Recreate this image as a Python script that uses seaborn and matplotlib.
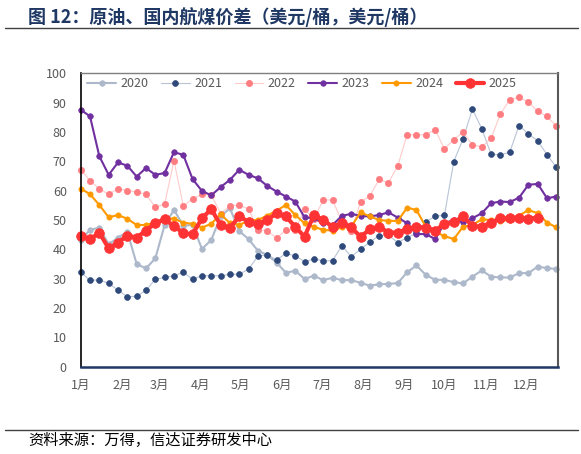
import matplotlib
matplotlib.use("Agg")
import matplotlib.pyplot as plt
from matplotlib.lines import Line2D
import numpy as np
import pandas as pd
import seaborn as sns

# ---------------- data ----------------
months = ["1月", "2月", "3月", "4月", "5月", "6月", "7月", "8月", "9月", "10月", "11月", "12月"]
month_start_days = [0, 31, 59, 90, 120, 151, 181, 212, 243, 273, 304, 334]
week_days = list(range(0, 52 * 7, 7))  # weekly observations, day of year

years = ["2020", "2021", "2022", "2023", "2024", "2025"]

v2020 = [43.2, 46.6, 47.4, 41.7, 44.0, 46.0, 35.0, 33.5, 36.9, 48.3,
         53.4, 48.1, 48.3, 40.1, 43.2, 51.2, 54.0, 46.2, 43.5, 39.5,
         38.1, 35.5, 32.0, 32.7, 29.9, 31.0, 29.5, 30.3, 29.5, 29.5,
         28.6, 27.6, 28.1, 28.2, 28.5, 32.2, 34.5, 31.3, 29.6, 29.6,
         28.8, 28.4, 30.7, 32.8, 30.7, 30.4, 30.4, 31.9, 31.9, 34.1,
         33.6, 33.3]
v2021 = [32.3, 29.4, 29.6, 28.4, 26.1, 23.8, 24.0, 26.0, 29.8, 30.4,
         31.0, 32.2, 29.8, 31.0, 31.0, 31.0, 31.5, 31.5, 33.3, 37.6,
         38.2, 36.4, 38.6, 37.8, 35.8, 36.7, 36.1, 36.1, 41.3, 37.5,
         40.0, 42.4, 44.7, 44.8, 42.3, 44.0, 45.5, 49.4, 51.2, 51.7,
         69.9, 77.7, 87.8, 81.1, 72.4, 72.2, 73.1, 82.2, 79.3, 77.0,
         72.2, 68.0]
v2022 = [67.2, 63.4, 60.6, 58.8, 60.6, 60.0, 59.6, 58.8, 54.3, 55.5,
         70.2, 54.8, 57.2, 58.7, 58.6, 52.2, 54.8, 55.0, 53.8, 46.6,
         46.4, 43.8, 46.6, 46.6, 53.8, 50.3, 56.8, 56.8, 49.5, 46.2,
         56.1, 58.2, 63.8, 62.7, 68.5, 79.1, 78.9, 79.1, 80.8, 74.2,
         77.4, 79.9, 75.6, 74.9, 77.8, 86.1, 91.0, 91.9, 90.2, 87.0,
         85.3, 82.0]
v2023 = [87.6, 85.3, 71.7, 65.4, 69.6, 68.5, 64.8, 67.7, 65.4, 66.0,
         73.1, 72.2, 63.9, 59.9, 58.4, 61.2, 63.7, 67.1, 65.4, 64.2,
         61.6, 59.7, 58.0, 56.3, 50.9, 50.6, 48.9, 48.3, 51.4, 52.1,
         51.4, 51.2, 51.7, 52.6, 50.8, 48.9, 45.2, 45.2, 43.5, 48.9,
         50.0, 49.2, 50.6, 52.3, 55.7, 56.3, 56.1, 57.6, 62.0, 62.3,
         57.4, 58.0]
v2024 = [60.7, 58.8, 55.1, 50.9, 51.7, 50.4, 48.3, 48.3, 49.2, 50.6,
         50.4, 49.1, 48.7, 47.4, 48.7, 52.0, 48.9, 48.3, 49.8, 50.0,
         51.5, 53.2, 55.1, 51.7, 48.9, 47.7, 46.6, 46.4, 47.5, 47.7,
         52.6, 51.2, 50.0, 49.7, 49.7, 54.2, 53.4, 47.7, 46.0, 44.5,
         43.5, 47.7, 48.3, 50.2, 50.0, 49.7, 50.0, 51.5, 53.4, 52.3,
         49.1, 47.5]
v2025 = [44.6, 43.4, 45.7, 40.3, 42.3, 44.7, 44.0, 46.4, 48.9, 50.2,
         48.0, 45.5, 45.1, 50.6, 53.7, 48.3, 47.4, 51.2, 49.4, 48.5,
         50.0, 52.3, 51.2, 47.7, 44.3, 51.7, 50.0, 47.7, 48.9, 47.5,
         44.3, 46.8, 47.7, 45.7, 45.7, 46.9, 47.7, 47.4, 46.4, 48.7,
         49.2, 51.2, 48.0, 47.7, 49.1, 50.6, 50.6, 50.6, 50.4, 50.8]

series = [v2020, v2021, v2022, v2023, v2024, v2025]

# ---------------- styles ----------------
styles = {
    "2020": dict(color="#ADB9CA", lw=1.5, mfc="#ADB9CA", mec="#ADB9CA", ms=4.0),
    "2021": dict(color="#B8C4D6", lw=0.8, mfc="#2F4A7A", mec="#2F4A7A", ms=4.2),
    "2022": dict(color="#FFCACA", lw=0.8, mfc="#FF7C80", mec="#FF7C80", ms=4.5),
    "2023": dict(color="#7030A0", lw=1.5, mfc="#7030A0", mec="#7030A0", ms=4.0),
    "2024": dict(color="#FF9900", lw=1.5, mfc="#FF9900", mec="#FF9900", ms=3.8),
    "2025": dict(color="#FF3333", lw=3.0, mfc="#FF3333", mec="#FF3333", ms=7.0),
}

sns.set_theme(style="white")
plt.rcParams['font.family'] = ['Noto Sans CJK SC', 'DejaVu Sans']

fig = plt.figure(figsize=(5.81, 4.54), dpi=100)
ax = fig.add_axes([0.1389, 0.1923, 0.821, 0.6463])

for yr, vals in zip(years, series):
    st = styles[yr]
    df = pd.DataFrame({"day": week_days[:len(vals)], "value": vals})
    sns.lineplot(data=df, x="day", y="value", ax=ax, label=yr,
                 color=st["color"], linewidth=st["lw"], marker="o",
                 markersize=st["ms"], markerfacecolor=st["mfc"],
                 markeredgecolor=st["mec"], markeredgewidth=0.5,
                 clip_on=False)

ax.set_xlim(0, 358)
ax.set_ylim(0, 100)
ax.set_yticks(range(0, 101, 10))
ax.set_xticks(month_start_days)
ax.set_xticklabels(months)
ax.set_xlabel("")
ax.set_ylabel("")
ax.tick_params(axis="y", length=0, pad=10, labelsize=9, labelcolor="#595959")
ax.tick_params(axis="x", length=0, pad=8.5, labelsize=9, labelcolor="#595959")
ax.grid(False)

ax.spines["left"].set_color("#000000")
ax.spines["left"].set_linewidth(1.2)
ax.spines["bottom"].set_color("#1F3864")
ax.spines["bottom"].set_linewidth(1.8)
ax.spines["top"].set_color("#7F7F7F")
ax.spines["top"].set_linewidth(1.0)
ax.spines["right"].set_color("#595959")
ax.spines["right"].set_linewidth(1.5)

leg = ax.legend(ncol=6, loc="center", bbox_to_anchor=(0.464, 0.964),
                frameon=False, fontsize=9, handlelength=2.3,
                columnspacing=1.0, handletextpad=0.35, borderaxespad=0)
for t in leg.get_texts():
    t.set_color("#595959")

fig.text(0.048, 0.963, "图 12：原油、国内航煤价差（美元/桶，美元/桶）",
         fontsize=13, weight="bold", color="#1F3864", va="center", ha="left")
fig.add_artist(Line2D([0.008, 0.995], [0.938, 0.938], color="#404040", lw=1.0))
fig.add_artist(Line2D([0.008, 0.995], [0.053, 0.053], color="#404040", lw=1.0))
fig.text(0.048, 0.029, "资料来源：万得，信达证券研发中心", fontsize=11,
         color="#000000", va="center", ha="left")

fig.savefig("out.png", dpi=100)
